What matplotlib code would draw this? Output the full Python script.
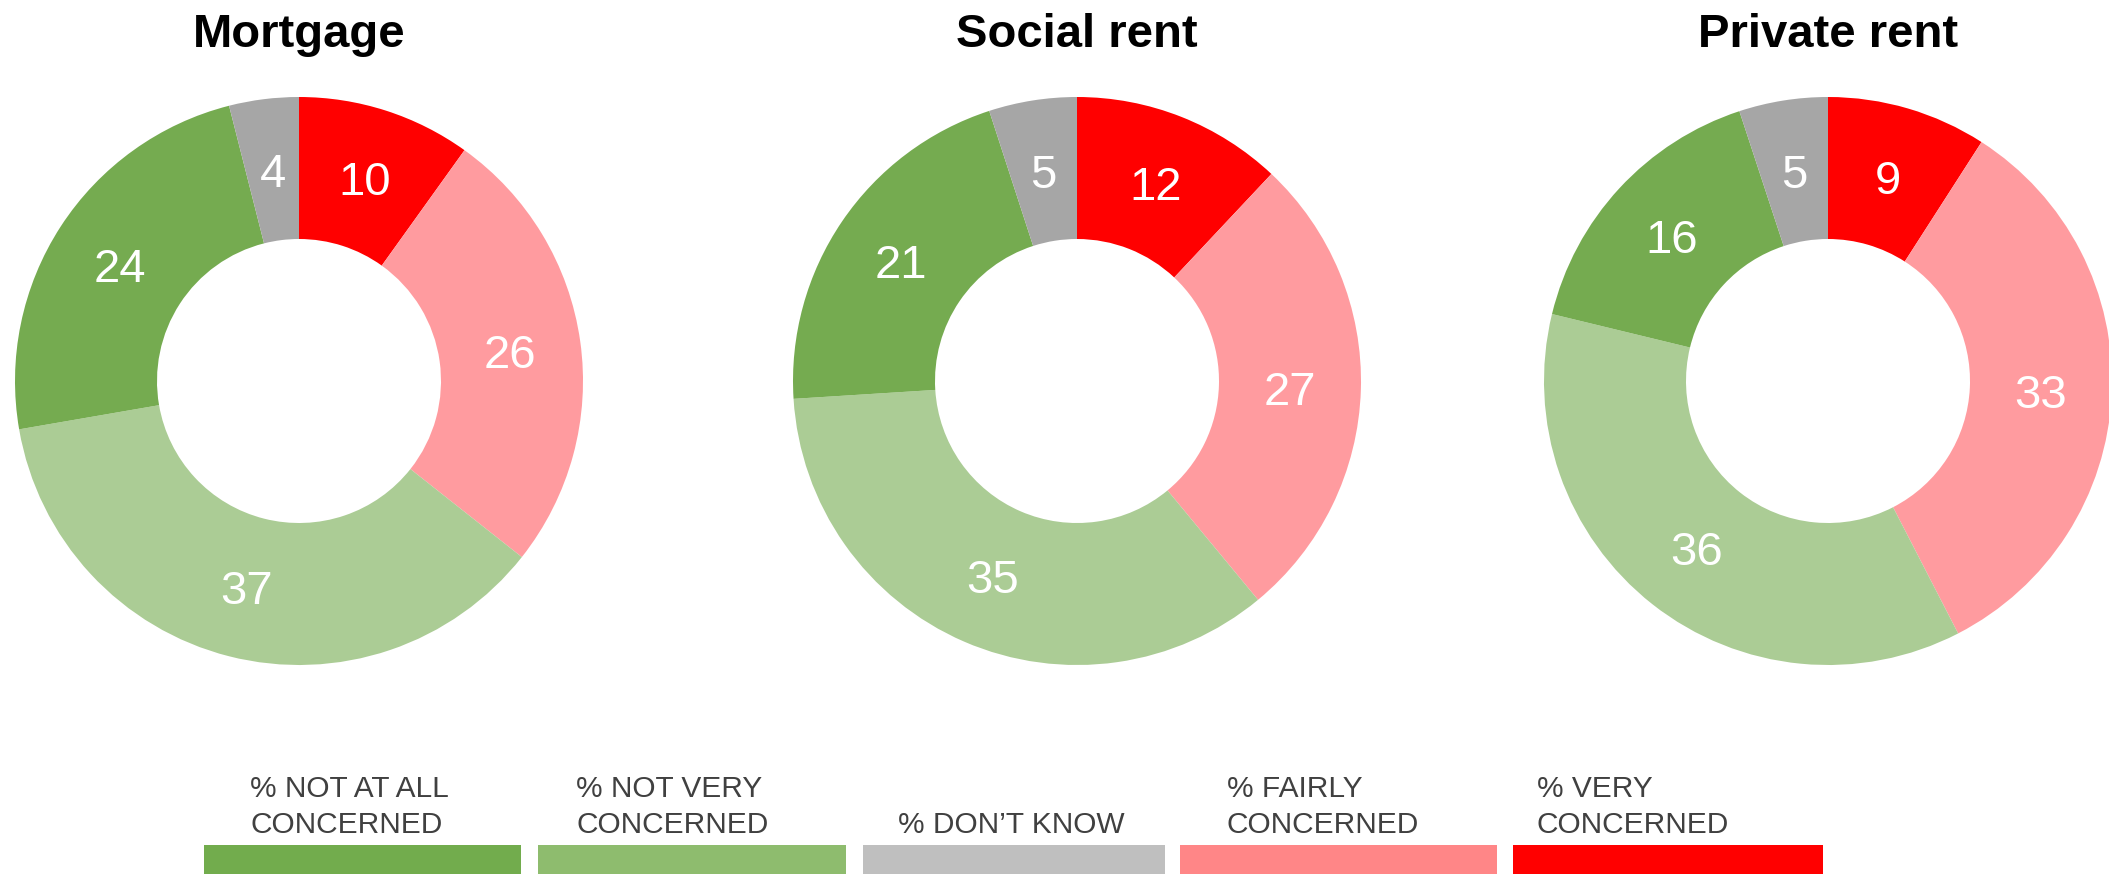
import numpy as np
import matplotlib
matplotlib.use("Agg")
import matplotlib.pyplot as plt
from matplotlib.patches import Rectangle

plt.rcParams['font.family'] = ['Liberation Sans', 'DejaVu Sans']

# data, clockwise from 12 o'clock
titles = ["Mortgage", "Social rent", "Private rent"]
segments = ["% VERY\nCONCERNED", "% FAIRLY\nCONCERNED", "% NOT VERY\nCONCERNED",
            "% NOT AT ALL\nCONCERNED", "% DON\u2019T KNOW"]
mortgage = [10, 26, 37, 24, 4]
social_rent = [12, 27, 35, 21, 5]
private_rent = [9, 33, 36, 16, 5]
all_values = [mortgage, social_rent, private_rent]

pie_colors = ["#FF0000", "#FF9B9F", "#ABCC95", "#75AB50", "#A6A6A6"]

# legend goes left to right in the other order
legend_labels = ["% NOT AT ALL\nCONCERNED", "% NOT VERY\nCONCERNED", "% DON\u2019T KNOW",
                 "% FAIRLY\nCONCERNED", "% VERY\nCONCERNED"]
legend_colors = ["#72AC4D", "#8EBC6E", "#BFBFBF", "#FF8687", "#FF0000"]

W, H = 2109, 874
fig = plt.figure(figsize=(W / 100, H / 100), dpi=100)

# donut centres / radius in pixels
centres_x = [299, 1077, 1828]
centre_y = 381
rad = 284

for i in range(3):
    cx = centres_x[i]
    ax = fig.add_axes([(cx - rad) / W, (H - centre_y - rad) / H, 2 * rad / W, 2 * rad / H])
    wedges, _ = ax.pie(all_values[i], colors=pie_colors, startangle=90, counterclock=False,
                       wedgeprops=dict(width=0.5, linewidth=0))
    ax.set_xlim(-1, 1)
    ax.set_ylim(-1, 1)
    ax.set_aspect('equal')
    for w, v in zip(wedges, all_values[i]):
        ang = np.deg2rad((w.theta1 + w.theta2) / 2)
        ax.text(0.75 * np.cos(ang), 0.75 * np.sin(ang), str(v), color="white",
                fontsize=34, ha="center", va="center_baseline")
    fig.text(cx / W, 1 - 47 / H, titles[i], fontsize=34, fontweight="bold",
             ha="center", va="baseline")

# legend boxes with text above
box_left = [204, 538, 863, 1180, 1513]
box_right = [521, 846, 1165, 1497, 1823]
text_x = [250, 576, 898, 1227, 1537]
lax = fig.add_axes([0, 0, 1, 1])
lax.set_xlim(0, W)
lax.set_ylim(H, 0)
lax.axis("off")
for j in range(5):
    lax.add_patch(Rectangle((box_left[j], 845), box_right[j] - box_left[j], 40,
                            color=legend_colors[j], linewidth=0))
    lines = legend_labels[j].split("\n")
    if len(lines) == 1:
        lines = [""] + lines
    lax.text(text_x[j], 797, lines[0], fontsize=21.5, color="#404040", va="baseline")
    lax.text(text_x[j], 833, lines[1], fontsize=21.5, color="#404040", va="baseline")

fig.savefig("out.png", dpi=100)
